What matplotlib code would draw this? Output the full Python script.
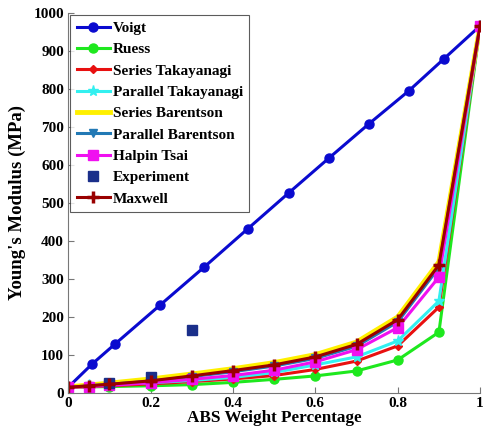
import matplotlib
matplotlib.use('Agg')
import matplotlib.pyplot as plt

plt.rcParams['font.family'] = ['Liberation Serif', 'DejaVu Serif']
plt.rcParams['font.weight'] = 'bold'

# Voigt is sampled at its own x positions
voigt_x = [0, 0.058, 0.114, 0.224, 0.331, 0.436, 0.535, 0.633, 0.730, 0.827, 0.912, 1.0]
voigt_y = [15, 76, 129, 232, 332, 432, 526, 618, 708, 795, 879, 966]

wt = [0, 0.05, 0.1, 0.2, 0.3, 0.4, 0.5, 0.6, 0.7, 0.8, 0.9, 1.0]
ruess = [15, 16, 17, 19, 22, 28, 36, 45, 58, 87, 160, 966]
series_taka = [15, 17, 19, 24, 30, 37, 46, 62, 84, 124, 226, 966]
parallel_taka = [15, 21, 23, 27, 33, 41, 54, 74, 95, 137, 242, 966]
series_bar = [16, 21, 26, 37, 50, 64, 80, 101, 134, 200, 345, 966]
parallel_bar = [15, 19, 23, 31, 43, 56, 71, 91, 123, 187, 330, 966]
halpin = [15, 17, 20, 27, 36, 46, 60, 82, 114, 172, 305, 966]
maxwell = [15, 19, 23, 32, 45, 59, 74, 95, 128, 193, 337, 966]

exp_x = [0.1, 0.2, 0.3]
exp_y = [27, 42, 167]

fig = plt.figure(figsize=(4.83, 4.30), dpi=100)
ax = fig.add_axes([0.141, 0.086, 0.853, 0.884])

lw = 2.2
ax.plot(voigt_x, voigt_y, color='#0A0ACF', lw=lw, marker='o', ms=6.5, label='Voigt')
ax.plot(wt, ruess, color='#1EE81E', lw=lw, marker='o', ms=6.5, label='Ruess')
ax.plot(wt, series_taka, color='#E81010', lw=lw, marker='D', ms=4, label='Series Takayanagi')
ax.plot(wt, parallel_taka, color='#33F0F0', lw=lw, marker='*', ms=8, label='Parallel Takayanagi')
ax.plot(wt, series_bar, color='#FFF000', lw=3.5, label='Series Barentson')
ax.plot(wt, parallel_bar, color='#2279B5', lw=lw, marker='v', ms=6, label='Parallel Barentson')
ax.plot(wt, halpin, color='#F010F0', lw=lw, marker='s', ms=6.5, label='Halpin Tsai')
ax.plot(exp_x, exp_y, color='#1A2F8A', ls='none', marker='s', ms=6.5, label='Experiment')
ax.plot(wt, maxwell, color='#990000', lw=lw, marker='+', ms=8, mew=2.5, label='Maxwell')

ax.set_xlim(0, 1)
ax.set_ylim(0, 1000)
ax.set_xticks([0, 0.2, 0.4, 0.6, 0.8, 1])
ax.set_xticklabels(['0', '0.2', '0.4', '0.6', '0.8', '1'])
ax.set_yticks(range(0, 1001, 100))
ax.tick_params(direction='in', labelsize=11, color='#777777', length=4, pad=3)
for lab in ax.get_xticklabels() + ax.get_yticklabels():
    lab.set_fontweight('bold')
ax.spines['top'].set_visible(False)
ax.spines['right'].set_visible(False)
ax.spines['left'].set_color('#777777')
ax.spines['bottom'].set_color('#777777')

ax.set_xlabel('ABS Weight Percentage', fontsize=12.3, fontweight='bold', labelpad=0)
ax.set_ylabel("Young's Modulus (MPa)", fontsize=13.5, fontweight='bold', labelpad=5)

leg = ax.legend(loc='upper left', fontsize=11, frameon=True, fancybox=False,
                borderaxespad=0.15, handlelength=2.2, handletextpad=0.2,
                labelspacing=0.5, borderpad=0.4)
leg.get_frame().set_edgecolor('#333333')
leg.get_frame().set_linewidth(0.8)
for t in leg.get_texts():
    t.set_fontweight('bold')

fig.savefig('out.png', dpi=100)
